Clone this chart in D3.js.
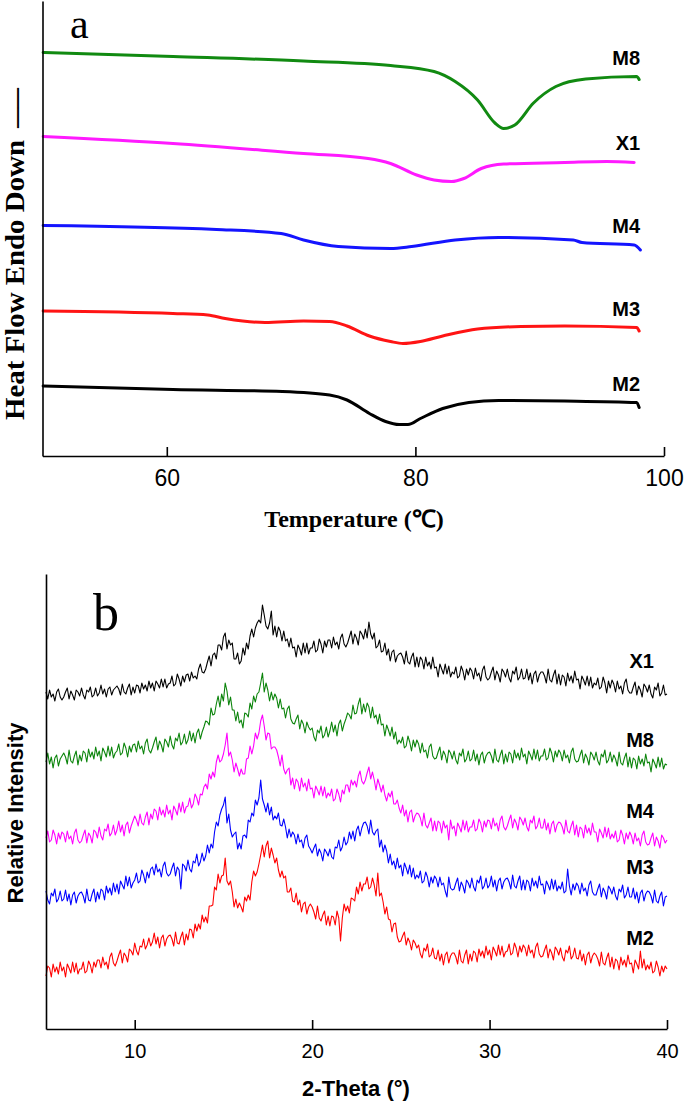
<!DOCTYPE html>
<html><head><meta charset="utf-8">
<script src="https://cdn.jsdelivr.net/npm/d3@7"></script>
<style>body{margin:0;background:#fff} svg{display:block}</style>
</head><body>
<svg id="c" width="685" height="1104"></svg>
<script>
// ---------- Panel a: DSC ----------
const dscNames = ["M8", "X1", "M4", "M3", "M2"];
const dscTemp_M8 = [50.05, 60.5, 71.0, 78.0, 81.5, 83.2, 85.0, 86.4, 87.1, 88.0, 89.5, 91.3, 93.7, 97.8, 98.0];
const dscFlow_M8 = [80.7, 79.9, 79.0, 78.1, 76.9, 74.9, 71.2, 66.6, 65.5, 66.2, 70.6, 73.9, 75.4, 75.9, 75.3];
const dscTemp_X1 = [50.05, 60.5, 71.0, 76.2, 78.0, 80.1, 81.5, 82.9, 83.9, 85.3, 87.1, 92.0, 95.4, 97.6];
const dscFlow_X1 = [63.9, 62.5, 60.5, 59.5, 58.5, 56.2, 55.2, 54.9, 55.5, 57.5, 58.4, 58.7, 58.9, 58.7];
const dscTemp_M4 = [50.05, 64.0, 69.2, 71.0, 73.8, 78.0, 79.7, 83.2, 86.7, 92.7, 93.4, 97.6, 98.1];
const dscFlow_M4 = [46.1, 45.3, 44.5, 43.2, 41.9, 41.5, 41.9, 43.2, 43.7, 43.2, 42.7, 42.2, 41.2];
const dscTemp_M3 = [50.05, 60.5, 63.3, 64.7, 66.1, 67.9, 71.0, 73.1, 74.5, 76.3, 78.0, 79.0, 80.4, 82.2, 85.0, 88.5, 92.0, 97.8, 98.0];
const dscFlow_M3 = [29.0, 28.5, 28.2, 27.5, 27.0, 26.7, 27.0, 26.9, 26.0, 24.0, 22.9, 22.5, 22.9, 24.0, 25.4, 25.9, 26.0, 25.7, 25.0];
const dscTemp_M2 = [50.05, 60.5, 69.3, 73.1, 74.5, 76.3, 77.6, 78.7, 79.4, 80.4, 82.2, 84.3, 86.7, 92.0, 97.8, 98.0];
const dscFlow_M2 = [14.0, 13.3, 12.9, 12.2, 11.2, 8.5, 6.9, 6.3, 6.3, 7.5, 9.5, 10.7, 11.1, 11.0, 10.7, 9.7];
const dscTicks = [60, 80, 100];

// ---------- Panel b: XRD (2-theta from 5 to 40, step 0.1) ----------
const xrdNames = ["X1", "M8", "M4", "M3", "M2"];
const xrdTheta = d3.range(351).map(i => +(5 + i * 0.1).toFixed(1));
const xrd_X1 = [
 337,330,339,332,335,328,337,340,332,329, 332,337,341,330,338,334,329,339,337,333,
 341,334,330,339,337,342,332,334,341,333, 336,344,335,340,332,340,342,334,339,341,
 343,340,334,345,337,335,341,345,334,342, 336,344,343,336,346,340,344,338,348,341,
 346,338,348,345,341,350,342,350,341,345, 346,353,343,345,355,350,343,353,347,354,
 355,348,357,351,353,350,360,365,357,356, 360,367,373,363,374,376,370,384,384,379,
 392,396,380,389,384,386,370,370,376,365, 368,381,374,386,380,393,400,392,401,406,
 409,406,424,414,403,400,406,418,394,403, 392,402,398,388,398,388,390,382,391,381,
 382,372,384,380,374,386,376,386,375,381, 381,388,377,379,390,385,376,388,382,389,
 389,381,392,384,387,380,391,395,385,382, 386,392,398,385,395,391,384,398,395,390,
 400,391,407,395,390,396,381,383,389,377, 378,386,374,380,368,377,379,367,373,375,
 376,372,365,378,367,365,372,376,362,372, 362,372,369,360,372,363,367,360,372,361,
 362,352,365,360,355,365,355,363,352,357, 355,362,351,353,363,358,349,360,354,361,
 358,350,361,353,356,348,359,363,352,349, 351,357,362,349,358,354,347,360,357,352,
 360,351,347,358,355,362,349,352,360,350, 351,360,349,356,345,355,358,347,354,357,
 357,353,346,360,349,347,354,359,345,355, 344,354,352,343,356,348,353,346,358,349,
 350,340,353,349,344,353,343,352,341,346, 344,351,340,342,352,346,336,348,341,349,
 345,337,348,340,343,335,346,350,339,336, 336,342,347,334,343,339,332,345,342,337,
 344,335,331,342,339,346,333,336,344,334, 335];
const xrd_M8 = [
 267,276,265,272,261,271,274,263,270,273, 276,272,265,279,268,266,273,278,264,274,
 268,278,276,267,280,272,277,270,282,273, 278,268,281,277,272,283,273,282,271,276,
 278,285,274,276,286,281,272,283,277,284, 285,277,288,280,283,275,286,290,279,276,
 281,287,292,279,288,284,277,290,287,282, 293,284,280,291,288,296,284,287,295,285,
 289,298,288,296,286,296,300,290,297,302, 308,307,304,321,314,315,325,333,322,335,
 328,346,338,324,332,319,319,308,317,306, 309,301,316,315,312,326,320,333,327,335,
 337,346,356,337,346,339,328,337,329,335, 331,321,330,320,321,311,320,323,310,306,
 305,310,314,300,309,305,296,307,302,299, 301,292,288,299,296,303,291,294,302,292,
 298,307,297,304,293,305,309,298,305,310, 316,314,310,324,315,316,325,331,315,325,
 317,326,322,311,322,311,314,305,315,304, 305,293,304,299,293,302,290,297,285,289,
 286,292,281,283,293,287,278,289,282,289, 285,276,286,277,279,271,282,285,273,270,
 271,277,282,269,278,274,266,279,276,270, 278,269,265,276,273,280,267,270,278,268,
 270,279,268,275,264,274,277,266,273,276, 277,273,266,280,269,267,274,279,265,275,
 267,277,275,266,279,271,276,269,281,272, 275,265,278,274,269,280,270,279,268,273,
 273,280,269,271,281,276,267,278,272,279, 276,268,279,271,274,266,277,281,270,267,
 268,274,279,266,275,271,264,277,274,269, 277,268,264,275,272,279,266,269,277,267,
 274,270,263,277,266,264,271,276,262,272, 261,271,269,260,273,265,270,263,275,266,
 267,257,270,266,261,272,262,271,260,265, 264];
const xrd_M4 = [
 191,198,187,189,199,194,185,196,190,197, 195,187,198,190,193,185,196,200,189,186,
 188,194,199,186,196,193,186,199,197,191, 202,193,189,200,198,205,193,196,204,194,
 199,208,197,204,193,204,207,196,203,208, 213,209,203,215,206,204,212,217,204,215,
 210,220,218,209,222,214,219,212,224,215, 219,209,223,219,214,226,217,227,216,222,
 223,231,221,225,235,231,224,235,234,242, 245,240,255,250,257,252,267,274,267,269,
 275,284,296,273,277,269,257,266,260,253, 260,255,255,270,271,283,275,283,296,290,
 296,308,314,303,289,296,295,280,282,282, 279,272,263,274,260,255,259,261,244,251,
 240,250,247,238,251,242,246,238,250,240, 241,231,243,239,234,243,233,242,231,236,
 233,240,228,230,240,235,227,239,235,244, 244,237,249,244,248,242,253,258,248,245,
 249,256,262,250,257,249,239,250,244,237, 244,234,228,236,232,238,225,225,229,221,
 216,224,213,219,207,217,219,207,213,216, 215,211,203,216,204,201,206,211,198,208,
 198,208,206,196,208,201,204,189,209,200, 203,193,206,202,197,209,199,208,197,202,
 202,209,198,200,210,206,197,208,202,209, 208,200,211,203,206,198,209,213,202,199,
 203,209,214,201,210,206,199,212,209,204, 211,202,198,209,206,213,200,203,211,201,
 201,210,199,206,195,205,208,197,204,207, 206,202,195,209,198,196,203,208,194,204,
 192,202,200,191,204,196,201,194,206,197, 197,187,200,196,191,202,192,201,190,195,
 191,198,187,189,199,194,185,196,190,197, 193,185,196,188,191,183,194,198,187,184,
 185,191,196,183,192,188,181,194,191,186, 189];
const xrd_M3 = [
 138,129,125,136,133,140,127,130,138,128, 130,139,128,135,124,134,137,126,133,136,
 137,133,126,140,129,128,135,140,127,137, 130,140,138,129,143,136,141,134,146,137,
 145,135,148,144,140,153,143,152,141,146, 149,156,146,148,159,154,146,157,151,160,
 162,154,165,157,160,152,163,167,156,153, 155,161,166,153,162,159,140,165,163,158,
 169,160,157,168,166,175,163,167,176,168, 173,184,176,185,181,197,207,203,214,220,
 224,232,206,215,199,192,195,197,180,186, 180,193,194,191,209,207,216,213,229,224,
 231,249,230,224,217,226,214,222,209,213, 210,216,204,203,210,202,191,200,192,197,
 194,185,195,187,189,181,191,194,183,180, 176,181,185,173,180,176,168,180,177,173,
 180,172,170,182,181,189,178,182,192,184, 187,197,190,198,188,199,203,193,201,206,
 207,203,195,209,197,194,198,200,182,189, 177,184,178,166,175,164,168,160,171,161,
 164,153,166,161,155,164,152,161,150,154, 151,158,146,148,157,152,142,152,146,153,
 150,142,152,144,146,138,132,152,141,139, 140,146,151,138,147,143,136,149,146,141,
 151,142,138,149,146,153,140,143,151,141, 144,153,142,149,138,148,151,140,147,150,
 151,147,140,154,143,141,148,153,139,149, 139,149,147,138,151,143,148,141,153,144,
 145,135,148,144,139,150,140,149,138,143, 140,147,136,138,160,143,134,145,139,146,
 143,135,146,138,141,133,144,148,137,134, 134,140,145,132,141,137,130,143,140,135,
 142,133,129,140,137,144,131,134,142,132, 132,141,130,137,126,136,139,128,135,138,
 137,133,126,139,128,126,133,137,123,132, 133];
const xrd_M2 = [
 53,63,61,52,65,57,62,55,67,58, 62,52,65,61,56,67,57,66,55,60,
 60,67,56,58,68,64,56,67,62,69, 69,61,72,64,67,60,72,76,66,63,
 68,74,79,66,76,73,67,80,78,74, 86,78,74,83,82,90,80,84,91,83,
 87,96,85,92,81,91,94,83,90,93, 94,90,83,97,86,85,92,97,84,95,
 89,100,99,91,105,98,105,100,114,107, 112,106,123,123,124,142,139,155,146,153,
 154,171,148,144,148,137,122,130,121,126, 122,117,132,128,134,129,147,158,153,157,
 165,174,184,172,183,188,171,181,174,166, 171,159,152,158,151,153,137,137,141,128,
 127,136,124,129,117,125,127,115,122,125, 122,117,110,123,111,108,114,118,104,113,
 103,113,112,104,118,111,88,111,125,118, 123,116,131,130,128,142,135,147,138,145,
 145,152,140,142,151,144,133,156,133,136, 127,115,122,110,109,97,105,106,92,87,
 88,93,97,84,91,87,79,89,86,81, 84,75,71,81,78,85,72,74,81,71,
 70,79,68,75,64,74,77,66,73,76, 76,72,65,79,68,66,74,79,65,75,
 68,78,76,67,80,73,78,71,83,74, 79,69,82,78,73,84,74,83,72,77,
 78,85,74,76,86,81,72,83,77,84, 81,73,84,76,79,71,82,86,75,72,
 73,79,84,71,80,76,69,82,79,74, 81,72,68,79,76,83,70,73,81,71,
 70,79,68,75,64,74,77,66,73,76, 74,70,63,77,66,64,71,76,62,72,
 60,70,68,59,72,64,69,62,74,65, 66,56,69,65,60,78,61,70,59,64,
 60,67,56,58,68,62,53,63,57,63, 60];
const xrdTicks = [10, 20, 30, 40];

// ---------- styles ----------
const colorOf = { M8: "#118a11", X1: "#ff1aff", M4: "#1414ff", M3: "#ff1414", M2: "#000000" };
const colorOfB = { X1: "#000000", M8: "#0b840b", M4: "#ff00ff", M3: "#0000ff", M2: "#ff0000" };
const labelNudgeB = { X1: 0, M8: 6, M4: 0, M3: 0, M2: 0 };
const SANS = "'Liberation Sans', Arial, sans-serif";
const SERIF = "'Liberation Serif', 'Times New Roman', serif";

const svg = d3.select("#c");

// ===== Panel a =====
const xA = d3.scaleLinear().domain([50, 100]).range([42.5, 664]);
const yA = d3.scaleLinear().domain([0, 91]).range([456, 1]);
const dscData = {
  M8: dscTemp_M8.map((t, i) => [t, dscFlow_M8[i]]),
  X1: dscTemp_X1.map((t, i) => [t, dscFlow_X1[i]]),
  M4: dscTemp_M4.map((t, i) => [t, dscFlow_M4[i]]),
  M3: dscTemp_M3.map((t, i) => [t, dscFlow_M3[i]]),
  M2: dscTemp_M2.map((t, i) => [t, dscFlow_M2[i]])
};
const lineA = d3.line().x(d => xA(d[0])).y(d => yA(d[1])).curve(d3.curveMonotoneX);
const gA = svg.append("g");
dscNames.forEach(n => {
  gA.append("path").attr("d", lineA(dscData[n])).attr("fill", "none")
    .attr("stroke", colorOf[n]).attr("stroke-width", 3).attr("stroke-linejoin", "round").attr("stroke-linecap", "round");
  const pts = dscData[n];
  const ref = pts[pts.length - 2];
  gA.append("text").attr("x", xA(98) + 1).attr("y", yA(ref[1]) - 12)
    .attr("text-anchor", "end").attr("font-family", SANS).attr("font-weight", "bold")
    .attr("font-size", 20).text(n);
});
const axA = gA.append("g").attr("transform", `translate(0,${yA(0)})`)
  .call(d3.axisBottom(xA).tickValues(dscTicks).tickSize(-9).tickSizeOuter(0).tickPadding(14).tickFormat(d3.format("d")));
const ayA = gA.append("g").attr("transform", `translate(${xA(50)},0)`)
  .call(d3.axisLeft(yA).tickValues([]).tickSizeOuter(0));
[axA, ayA].forEach(a => {
  a.selectAll("path,line").attr("stroke", "#000").attr("stroke-width", 1.6);
  a.selectAll("text").attr("font-family", SANS).attr("font-size", 23).attr("fill", "#000");
});
gA.append("text").attr("x", 354).attr("y", 527).attr("text-anchor", "middle")
  .attr("font-family", SERIF).attr("font-weight", "bold").attr("font-size", 24).text("Temperature (\u2103)");
gA.append("text").attr("transform", "translate(24,420) rotate(-90)")
  .attr("font-family", SERIF).attr("font-weight", "bold").attr("font-size", 27)
  .attr("textLength", 280).attr("lengthAdjust", "spacingAndGlyphs").text("Heat Flow Endo Down");
gA.append("text").attr("transform", "translate(24,128) rotate(-90)")
  .attr("font-family", SERIF).attr("font-weight", "bold").attr("font-size", 27)
  .attr("textLength", 40).attr("lengthAdjust", "spacingAndGlyphs").text("\u2014\u2014");
gA.append("text").attr("x", 70).attr("y", 38).attr("font-family", SERIF).attr("font-size", 42).text("a");

// ===== Panel b =====
const xB = d3.scaleLinear().domain([5, 40]).range([46, 667]);
const yB = d3.scaleLinear().domain([0, 455]).range([1029, 574]);
const xrdData = { X1: xrd_X1, M8: xrd_M8, M4: xrd_M4, M3: xrd_M3, M2: xrd_M2 };
const lineB = d3.line().x((d, i) => xB(xrdTheta[i])).y(d => yB(d));
const gB = svg.append("g");
xrdNames.forEach(n => {
  const vals = xrdData[n];
  gB.append("path").attr("d", lineB(vals)).attr("fill", "none")
    .attr("stroke", colorOfB[n]).attr("stroke-width", 1.1).attr("stroke-linejoin", "round");
  const tail = d3.mean(vals.slice(-20));
  gB.append("text").attr("x", 654).attr("y", yB(tail) - 22 + labelNudgeB[n])
    .attr("text-anchor", "end").attr("font-family", SANS).attr("font-weight", "bold")
    .attr("font-size", 20).text(n);
});
const axB = gB.append("g").attr("transform", `translate(0,${yB(0)})`)
  .call(d3.axisBottom(xB).tickValues(xrdTicks).tickSize(-9).tickSizeOuter(0).tickPadding(15).tickFormat(d3.format("d")));
const ayB = gB.append("g").attr("transform", `translate(${xB(5)},0)`)
  .call(d3.axisLeft(yB).tickValues([]).tickSizeOuter(0));
[axB, ayB].forEach(a => {
  a.selectAll("path,line").attr("stroke", "#000").attr("stroke-width", 1.6);
  a.selectAll("text").attr("font-family", SANS).attr("font-size", 20).attr("fill", "#000");
});
gB.append("text").attr("x", 356).attr("y", 1096).attr("text-anchor", "middle")
  .attr("font-family", SANS).attr("font-weight", "bold").attr("font-size", 22).text("2-Theta (\u00B0)");
gB.append("text").attr("transform", "translate(23,813) rotate(-90)").attr("text-anchor", "middle")
  .attr("font-family", SANS).attr("font-weight", "bold").attr("font-size", 22).text("Relative Intensity");
gB.append("text").attr("x", 93).attr("y", 630).attr("font-family", SERIF).attr("font-size", 52).text("b");
</script></body></html>
